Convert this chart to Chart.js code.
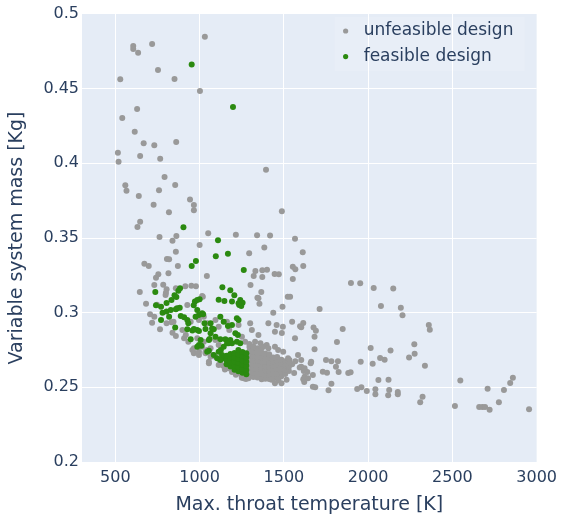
<!DOCTYPE html>
<html>
<head>
<meta charset="utf-8">
<script src="https://cdn.jsdelivr.net/npm/chart.js@4.4.1/dist/chart.umd.min.js"></script>
<style>
  html, body { margin: 0; padding: 0; background: #ffffff; }
  #wrap { width: 563px; height: 520px; }
</style>
</head>
<body>
<div id="wrap"><canvas id="chart" width="563" height="520"></canvas></div>
<script>
// [max. throat temperature (K), variable system mass (kg)]
const unfeasibleDesigns = [
  [1031,0.4848],[718,0.4799],[606,0.4786],[606,0.4766],[635,0.4741],[753,0.4625],[529,0.4563],[851,0.4565],
  [1002,0.4484],[629,0.4364],[541,0.4304],[615,0.4212],[668,0.4134],[731,0.4121],[861,0.4143],[515,0.4071],
  [647,0.4049],[519,0.4011],[766,0.4031],[1394,0.3957],[792,0.3909],[559,0.3853],[566,0.3817],[759,0.3820],
  [855,0.3855],[639,0.3781],[943,0.3757],[966,0.3721],[966,0.3686],[727,0.3723],[818,0.3672],[1488,0.3679],
  [647,0.3609],[631,0.3574],[1051,0.3531],[1215,0.3522],[1341,0.3518],[1418,0.3516],[762,0.3507],[839,0.3482],
  [862,0.3513],[1000,0.3453],[1384,0.3437],[859,0.3408],[1294,0.3398],[806,0.3359],[819,0.3357],[672,0.3328],
  [698,0.3313],[871,0.3313],[1331,0.3279],[1372,0.3284],[1400,0.3288],[1445,0.3259],[1470,0.3257],[1321,0.3246],
  [1372,0.3239],[755,0.3257],[741,0.3234],[815,0.3264],[1043,0.3246],[1302,0.3185],[731,0.3185],[784,0.3187],
  [804,0.3156],[951,0.3181],[978,0.3177],[915,0.3177],[645,0.3139],[1019,0.3107],[1366,0.3139],[1343,0.3100],
  [682,0.3060],[747,0.3053],[927,0.3051],[1355,0.3060],[1492,0.3040],[1523,0.3107],[798,0.3118],[859,0.3163],
  [1566,0.3495],[1612,0.3404],[1553,0.3308],[1568,0.3290],[1615,0.3313],[1553,0.3226],[1537,0.3107],[1712,0.3025],
  [1898,0.3199],[1953,0.3197],[2033,0.3165],[2149,0.3161],[2076,0.3045],[2194,0.3033],[2204,0.2982],[2360,0.2917],
  [2366,0.2886],[1549,0.2940],[1615,0.2931],[1596,0.2909],[1603,0.2902],[1494,0.2906],[1488,0.2864],[1676,0.2900],
  [1690,0.2879],[1849,0.2891],[1566,0.2828],[1815,0.2804],[1682,0.2755],[2015,0.2764],[2133,0.2746],[2274,0.2788],
  [2276,0.2725],[2243,0.2699],[2337,0.2645],[2071,0.2697],[2098,0.2685],[2027,0.2658],[1956,0.2672],[1584,0.2717],
  [1782,0.2674],[1821,0.2674],[1809,0.2638],[1825,0.2603],[1756,0.2598],[1882,0.2596],[1896,0.2601],[1659,0.2661],
  [1662,0.2672],[1561,0.2596],[1594,0.2632],[1618,0.2609],[1639,0.2603],[1568,0.2674],[1533,0.2683],[1549,0.2654],
  [1615,0.2554],[1621,0.2536],[1672,0.2504],[1686,0.2500],[1782,0.2524],[1765,0.2480],[2061,0.2549],[2121,0.2551],
  [1935,0.2489],[1960,0.2500],[1992,0.2476],[2043,0.2487],[2043,0.2453],[2125,0.2482],[2119,0.2447],[2176,0.2469],
  [2176,0.2453],[2323,0.2437],[2309,0.2400],[2547,0.2545],[2709,0.2491],[2806,0.2482],[2843,0.2529],[2859,0.2565],
  [2776,0.2400],[2515,0.2375],[2659,0.2368],[2678,0.2368],[2694,0.2368],[2721,0.2350],[2955,0.2353],[800,0.3134],
  [1015,0.3112],[706,0.2989],[731,0.2973],[718,0.2933],[765,0.2889],[804,0.2929],[845,0.2940],[839,0.2866],
  [859,0.2844],[898,0.2884],[908,0.2828],[933,0.2806],[957,0.2750],[966,0.2728],[1015,0.2772],[1035,0.2739],
  [1065,0.2761],[1078,0.2717],[1094,0.2817],[1113,0.2784],[1025,0.2973],[1045,0.2929],[1094,0.2951],[1113,0.2906],
  [1162,0.2940],[1176,0.2884],[1231,0.2918],[1251,0.2839],[1270,0.2806],[947,0.2940],[996,0.2951],[996,0.2717],
  [1055,0.2672],[1113,0.2650],[1172,0.2627],[1231,0.2594],[1290,0.2560],[1368,0.2554],[1427,0.2550],[1486,0.2527],
  [1525,0.2650],[1603,0.2683],[1623,0.2571],[1437,0.3000],[1349,0.3096],[1300,0.2929],[1310,0.2884],[1349,0.2851],
  [1408,0.2929],[1457,0.2918],[1447,0.2873],[1682,0.2839],[1310,0.2750],[1398,0.2784],[1368,0.2728],[1388,0.2683],
  [1329,0.2694],[1486,0.2683],[1447,0.2638],[1506,0.2605],[1603,0.2638],[1731,0.2605],[1750,0.2683],[1643,0.2560],
  [1094,0.2705],[1123,0.2672],[833,0.2936],[918,0.2851],[986,0.2828],[1025,0.2806],[966,0.2761],[996,0.2739],
  [1035,0.2728],[1065,0.2705],[1055,0.2661],
  [1296,0.2575],[1296,0.2603],[1296,0.2631],[1296,0.2659],[1296,0.2687],[1296,0.2715],[1296,0.2743],[1296,0.2770],
  [1319,0.2570],[1319,0.2598],[1319,0.2626],[1319,0.2654],[1319,0.2682],[1319,0.2710],[1319,0.2738],[1319,0.2766],
  [1343,0.2566],[1343,0.2594],[1343,0.2622],[1343,0.2650],[1343,0.2678],[1343,0.2706],[1343,0.2734],[1343,0.2762],
  [1366,0.2562],[1366,0.2590],[1366,0.2618],[1366,0.2646],[1366,0.2674],[1366,0.2702],[1366,0.2730],[1366,0.2758],
  [1390,0.2558],[1390,0.2586],[1390,0.2614],[1390,0.2642],[1390,0.2670],[1390,0.2698],[1390,0.2726],
  [1413,0.2556],[1413,0.2584],[1413,0.2612],[1413,0.2640],[1413,0.2668],[1413,0.2696],[1413,0.2722],
  [1437,0.2560],[1437,0.2588],[1437,0.2616],[1437,0.2644],[1437,0.2672],[1437,0.2700],
  [1460,0.2566],[1460,0.2594],[1460,0.2622],[1460,0.2650],[1460,0.2678],[1460,0.2703],
  [1484,0.2572],[1484,0.2600],[1484,0.2628],[1484,0.2656],[1484,0.2684],
  [1508,0.2590],[1508,0.2618],[1508,0.2646],[1508,0.2674],
  [1530,0.2610],[1530,0.2638],[1530,0.2664],
  [1132,0.2700],[1140,0.2645],[1150,0.2620],[1262,0.2561],[1295,0.2790],[1318,0.2775],[1361,0.2795],[1516,0.2550],
  [1467,0.2548],[1447,0.2527],[1623,0.2627],[1672,0.2583],[1045,0.2750],[1329,0.2806],[1378,0.2772],[1408,0.2761],
  [1447,0.2772],[1466,0.2750],[1496,0.2739],[1525,0.2694],[1192,0.2603],[1215,0.2585],[1250,0.2565],[1275,0.2555]
];

const feasibleDesigns = [
  [953,0.4661],[1198,0.4377],[904,0.3572],[1109,0.3485],[1096,0.3378],[1168,0.3395],[978,0.3346],[953,0.3313],
  [1262,0.3286],[884,0.3163],[874,0.3147],[851,0.3116],[862,0.3105],[737,0.3139],[833,0.3085],[804,0.3065],
  [1000,0.3090],[972,0.3074],[965,0.3049],[1135,0.3170],[1182,0.3150],[1206,0.3116],[1113,0.3087],[1147,0.3078],
  [1192,0.3074],[1241,0.3085],[1255,0.3067],[1235,0.3051],[1247,0.3045],[866,0.3029],[882,0.3033],[771,0.3040],
  [780,0.3000],[804,0.3007],[829,0.3018],[859,0.3023],[819,0.2973],[888,0.2978],[908,0.2969],[771,0.2951],
  [933,0.2929],[855,0.2900],[927,0.2889],[957,0.2880],[986,0.2884],[947,0.2822],[1006,0.2817],[996,0.2784],
  [986,0.2772],[1055,0.2817],[1123,0.2822],[1153,0.2822],[1172,0.2795],[1192,0.2795],[1221,0.2806],[1241,0.2795],
  [1113,0.2739],[1133,0.2717],[1143,0.2694],[1055,0.2745],[986,0.3018],[996,0.2984],[976,0.2973],[1015,0.2996],
  [1231,0.3063],[1123,0.2973],[1143,0.2940],[1168,0.2911],[1192,0.2918],[1221,0.2962],[1231,0.2951],[1212,0.2862],
  [1227,0.2851],[1065,0.2929],[1084,0.2889],[927,0.2951],[966,0.2891],[996,0.2877],[1010,0.2779],[986,0.3085],
  [1021,0.2989],[1029,0.2929],[1035,0.2891],[1074,0.2894],[1059,0.2824],[741,0.3050],[1045,0.2739],[1084,0.2717],
  [1104,0.2694],[1123,0.2683],[1065,0.2862],[1094,0.2839],[1182,0.2817],
  [1160,0.2655],[1160,0.2683],[1160,0.2711],
  [1183,0.2640],[1183,0.2668],[1183,0.2696],[1183,0.2724],
  [1207,0.2618],[1207,0.2646],[1207,0.2674],[1207,0.2702],[1207,0.2730],
  [1230,0.2608],[1230,0.2636],[1230,0.2664],[1230,0.2692],[1230,0.2720],[1230,0.2750],
  [1254,0.2597],[1254,0.2625],[1254,0.2653],[1254,0.2681],[1254,0.2709],[1254,0.2737],
  [1277,0.2588],[1277,0.2616],[1277,0.2644],[1277,0.2672],[1277,0.2700],[1277,0.2728],
  [1126,0.2750],[1143,0.2772],[1163,0.2795]
];

const seriesNames = ['unfeasible design', 'feasible design'];
const seriesColors = ['#999999', '#2b8a10'];
const temperatureTicks = [500, 1000, 1500, 2000, 2500, 3000];
const massTicks = [0.2, 0.25, 0.3, 0.35, 0.4, 0.45, 0.5];
const temperatureRange = [302, 3000];
const massRange = [0.2, 0.5];

const INK = '#2a3f5f';
const FONT = "'DejaVu Sans', Verdana, sans-serif";

const toPoints = rows => rows.map(([x, y]) => ({ x, y }));

// light blue panel behind the data
const plotBackground = {
  id: 'plotBackground',
  beforeDraw(chart) {
    const { ctx, chartArea: a } = chart;
    ctx.save();
    ctx.fillStyle = '#e5ecf6';
    ctx.fillRect(a.left, a.top, a.right - a.left, a.bottom - a.top);
    ctx.restore();
  }
};

// legend box in the upper-right corner of the panel
const cornerLegend = {
  id: 'cornerLegend',
  afterDatasetsDraw(chart) {
    const { ctx, chartArea: a } = chart;
    const boxLeft = a.right - 202, boxTop = a.top + 3;
    ctx.save();
    ctx.fillStyle = 'rgba(255,255,255,0.12)';
    ctx.fillRect(boxLeft, boxTop, 190, 54);
    ctx.font = '17px ' + FONT;
    ctx.textBaseline = 'middle';
    ctx.textAlign = 'left';
    const order = [0, 1];
    order.forEach((i, row) => {
      const ds = chart.data.datasets[i];
      const cy = a.top + 17 + row * 25.6;
      ctx.beginPath();
      ctx.arc(boxLeft + 11, cy, 2.6, 0, Math.PI * 2);
      ctx.fillStyle = ds.backgroundColor;
      ctx.fill();
      ctx.fillStyle = INK;
      ctx.fillText(ds.label, boxLeft + 29, cy);
    });
    ctx.restore();
  }
};

const gridColor = range => ctx =>
  (ctx.tick && (ctx.tick.value === range[0] || ctx.tick.value === range[1])) ? 'rgba(0,0,0,0)' : '#ffffff';

new Chart(document.getElementById('chart'), {
  type: 'scatter',
  data: {
    datasets: [
      {
        label: seriesNames[0],
        data: toPoints(unfeasibleDesigns),
        backgroundColor: seriesColors[0],
        borderWidth: 0,
        pointRadius: 3,
        pointHoverRadius: 3,
        order: 2
      },
      {
        label: seriesNames[1],
        data: toPoints(feasibleDesigns),
        backgroundColor: seriesColors[1],
        borderWidth: 0,
        pointRadius: 3,
        pointHoverRadius: 3,
        order: 1
      }
    ]
  },
  options: {
    responsive: false,
    animation: false,
    devicePixelRatio: 1,
    events: [],
    layout: { padding: { top: 14, right: 23, left: 0, bottom: 0 } },
    plugins: {
      legend: { display: false },
      tooltip: { enabled: false }
    },
    scales: {
      x: {
        type: 'linear',
        min: temperatureRange[0],
        max: temperatureRange[1],
        afterBuildTicks: s => { s.ticks = temperatureTicks.map(v => ({ value: v })); },
        afterFit: s => { s.height = 58; },
        border: { display: false },
        grid: { color: gridColor(temperatureRange), lineWidth: 1, drawTicks: false },
        ticks: { color: INK, font: { family: FONT, size: 16 }, padding: 6, maxRotation: 0, autoSkip: false,
                 callback: v => String(v) },
        title: { display: true, text: 'Max. throat temperature [K]', color: INK,
                 font: { family: FONT, size: 19 }, padding: { top: 0, bottom: 4 } }
      },
      y: {
        type: 'linear',
        min: massRange[0],
        max: massRange[1],
        afterBuildTicks: s => { s.ticks = massTicks.map(v => ({ value: v })); },
        afterFit: s => { s.width = 82; },
        border: { display: false },
        grid: { color: gridColor(massRange), lineWidth: 1, drawTicks: false },
        ticks: { color: INK, font: { family: FONT, size: 16 }, padding: 3, autoSkip: false,
                 callback: v => String(v) },
        title: { display: true, text: 'Variable system mass [Kg]', color: INK,
                 font: { family: FONT, size: 19 }, padding: { top: 6, bottom: 0 } }
      }
    }
  },
  plugins: [plotBackground, cornerLegend]
});
</script>
</body>
</html>
